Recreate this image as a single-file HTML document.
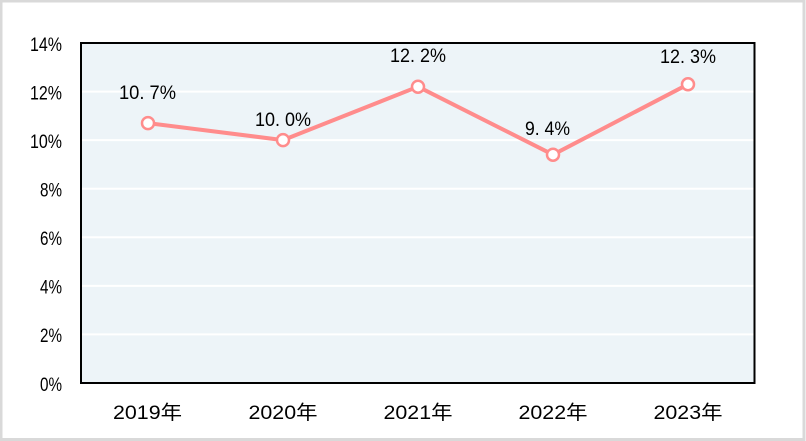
<!DOCTYPE html>
<html><head><meta charset="utf-8"><style>
html,body{margin:0;padding:0;background:#fff;}
svg{display:block;}
text{font-family:"Liberation Sans","Noto Sans CJK SC",sans-serif;fill:#000;}
</style></head><body>
<svg width="806" height="441" viewBox="0 0 806 441" xmlns="http://www.w3.org/2000/svg">
<rect x="0" y="0" width="806" height="441" fill="#fff"/>
<rect x="1" y="1" width="803" height="438.5" fill="none" stroke="#d9d9d9" stroke-width="3"/>
<rect x="81" y="43" width="673.5" height="340" fill="#edf4f8"/>
<g stroke="#fff" stroke-width="2">
<line x1="82" x2="754" y1="334.4" y2="334.4"/>
<line x1="82" x2="754" y1="285.9" y2="285.9"/>
<line x1="82" x2="754" y1="237.3" y2="237.3"/>
<line x1="82" x2="754" y1="188.7" y2="188.7"/>
<line x1="82" x2="754" y1="140.1" y2="140.1"/>
<line x1="82" x2="754" y1="91.6" y2="91.6"/>
</g>
<rect x="81" y="43" width="673.5" height="340" fill="none" stroke="#000" stroke-width="2"/>
<g font-size="19.5" text-anchor="end" lengthAdjust="spacingAndGlyphs">
<text x="62" y="51" textLength="32" lengthAdjust="spacingAndGlyphs">14%</text>
<text x="62" y="99.5" textLength="32" lengthAdjust="spacingAndGlyphs">12%</text>
<text x="62" y="148" textLength="32" lengthAdjust="spacingAndGlyphs">10%</text>
<text x="62" y="196.5" textLength="22" lengthAdjust="spacingAndGlyphs">8%</text>
<text x="62" y="245" textLength="22" lengthAdjust="spacingAndGlyphs">6%</text>
<text x="62" y="293.5" textLength="22" lengthAdjust="spacingAndGlyphs">4%</text>
<text x="62" y="342" textLength="22" lengthAdjust="spacingAndGlyphs">2%</text>
<text x="62" y="391" textLength="22" lengthAdjust="spacingAndGlyphs">0%</text>
</g>
<g font-size="19.5">
<text x="113" y="419" textLength="69" lengthAdjust="spacingAndGlyphs">2019年</text>
<text x="248.5" y="419" textLength="69" lengthAdjust="spacingAndGlyphs">2020年</text>
<text x="383.5" y="419" textLength="69" lengthAdjust="spacingAndGlyphs">2021年</text>
<text x="518.5" y="419" textLength="69" lengthAdjust="spacingAndGlyphs">2022年</text>
<text x="653.5" y="419" textLength="69" lengthAdjust="spacingAndGlyphs">2023年</text>
</g>
<polyline points="148,123.1 283,140.1 418,86.7 553,154.7 688,84.3" fill="none" stroke="#ff8c8c" stroke-width="4" stroke-linejoin="round"/>
<g fill="#fff" stroke="#ff8c8c" stroke-width="2.5">
<circle cx="148" cy="123.1" r="6"/>
<circle cx="283" cy="140.1" r="6"/>
<circle cx="418" cy="86.7" r="6"/>
<circle cx="553" cy="154.7" r="6"/>
<circle cx="688" cy="84.3" r="6"/>
</g>
<g font-size="19.5">
<text x="119" y="99" textLength="57" lengthAdjust="spacingAndGlyphs">10. 7%</text>
<text x="255" y="126" textLength="56" lengthAdjust="spacingAndGlyphs">10. 0%</text>
<text x="390" y="62" textLength="56" lengthAdjust="spacingAndGlyphs">12. 2%</text>
<text x="525" y="135" textLength="45" lengthAdjust="spacingAndGlyphs">9. 4%</text>
<text x="660" y="63" textLength="56" lengthAdjust="spacingAndGlyphs">12. 3%</text>
</g>
</svg>
</body></html>
